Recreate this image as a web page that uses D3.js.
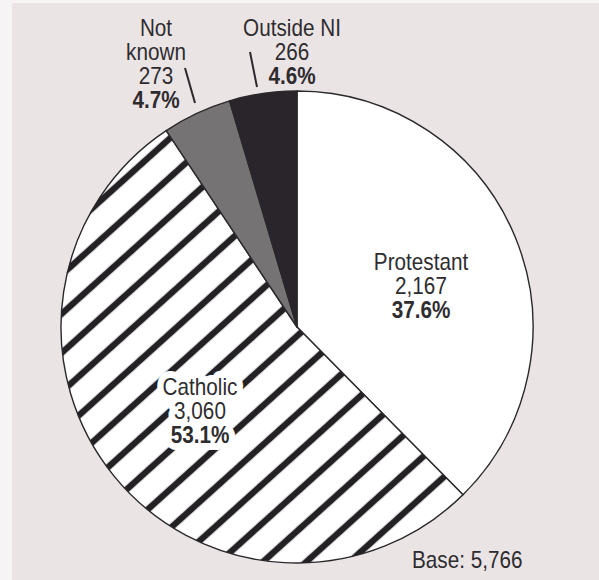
<!DOCTYPE html>
<html>
<head>
<meta charset="utf-8">
<script src="https://cdn.jsdelivr.net/npm/d3@7"></script>
<style>
  html, body { margin: 0; padding: 0; background: #ffffff; }
  svg { display: block; }
  text { font-family: "Liberation Sans", Arial, sans-serif; fill: #2e2c2f; }
</style>
</head>
<body>
<svg id="chart" width="599" height="580"></svg>
<script>
// Religion of respondents
const categories = ["Protestant", "Catholic", "Not known", "Outside NI"];
const counts = [2167, 3060, 273, 266];
const percentLabels = ["37.6%", "53.1%", "4.7%", "4.6%"];
const baseLabel = "Base: 5,766";

const W = 599, H = 580;
const cx = 297, cy = 327, R = 236;
const squeeze = 0.9;   // condensed lettering

const svg = d3.select("#chart");

// page backdrop
svg.append("rect").attr("x", 0).attr("y", 0).attr("width", W).attr("height", H).attr("fill", "#f7f4f5");
svg.append("rect").attr("x", 12).attr("y", 3).attr("width", W - 12).attr("height", H - 3).attr("fill", "#ebe4e5");

// diagonal hatch for the Catholic slice
const defs = svg.append("defs");
const hatch = defs.append("pattern")
  .attr("id", "hatch")
  .attr("patternUnits", "userSpaceOnUse")
  .attr("width", 29).attr("height", 29)
  .attr("patternTransform", `translate(${cx},${cy}) rotate(48)`);
hatch.append("rect").attr("width", 29).attr("height", 29).attr("fill", "#ffffff");
hatch.append("rect").attr("x", -3.2).attr("width", 6.4).attr("height", 29).attr("fill", "#232124");
hatch.append("rect").attr("x", 25.8).attr("width", 6.4).attr("height", 29).attr("fill", "#232124");

const fills = {
  "Protestant": "#ffffff",
  "Catholic": "url(#hatch)",
  "Not known": "#757374",
  "Outside NI": "#29252b"
};

const rows = categories.map((c, i) => ({ name: c, count: counts[i], pct: percentLabels[i] }));

const pie = d3.pie().sort(null).value(d => d.count);
const arc = d3.arc().innerRadius(0).outerRadius(R);

const g = svg.append("g").attr("transform", `translate(${cx},${cy})`);
g.selectAll("path.slice")
  .data(pie(rows))
  .join("path")
  .attr("class", "slice")
  .attr("d", arc)
  .attr("fill", d => fills[d.data.name])
  .attr("stroke", "#2a282b")
  .attr("stroke-width", 1.4)
  .attr("stroke-linejoin", "round");

// label anchor (x, first baseline) per slice
const labelPos = {
  "Protestant": { x: 421, y: 270, halo: false, lines: ["Protestant"] },
  "Catholic":   { x: 200, y: 395, halo: true,  lines: ["Catholic"] },
  "Not known":  { x: 156, y: 36,  halo: false, lines: ["Not", "known"] },
  "Outside NI": { x: 292, y: 36,  halo: false, lines: ["Outside NI"] }
};
const fmt = d3.format(",");
const lineH = 24;

rows.forEach(r => {
  const p = labelPos[r.name];
  const lines = p.lines.map(t => ({ t, bold: false }))
    .concat([{ t: fmt(r.count), bold: false }, { t: r.pct, bold: true }]);
  const makeText = () => {
    const txt = svg.append("text")
      .attr("transform", `translate(${p.x},0) scale(${squeeze},1)`)
      .attr("text-anchor", "middle")
      .attr("font-size", 23);
    lines.forEach((ln, i) => {
      txt.append("tspan")
        .attr("x", 0)
        .attr("y", p.y + i * lineH)
        .attr("font-weight", ln.bold ? "bold" : "normal")
        .text(ln.t);
    });
    return txt;
  };
  if (p.halo) {
    // white knockout behind the label so the hatch stops short of the lettering
    makeText().style("fill", "#ffffff").attr("stroke", "#ffffff")
      .attr("stroke-width", 14).attr("stroke-linejoin", "round");
  }
  makeText();
});

// leader lines for the two small slices
const leaders = [
  [[185, 68], [195, 103]],
  [[250, 52], [257, 87]]
];
svg.selectAll("line.leader")
  .data(leaders)
  .join("line")
  .attr("class", "leader")
  .attr("x1", d => d[0][0]).attr("y1", d => d[0][1])
  .attr("x2", d => d[1][0]).attr("y2", d => d[1][1])
  .attr("stroke", "#2a282b").attr("stroke-width", 2);

svg.append("text")
  .attr("transform", `translate(412,568) scale(${squeeze},1)`)
  .attr("font-size", 23)
  .text(baseLabel);
</script>
</body>
</html>
